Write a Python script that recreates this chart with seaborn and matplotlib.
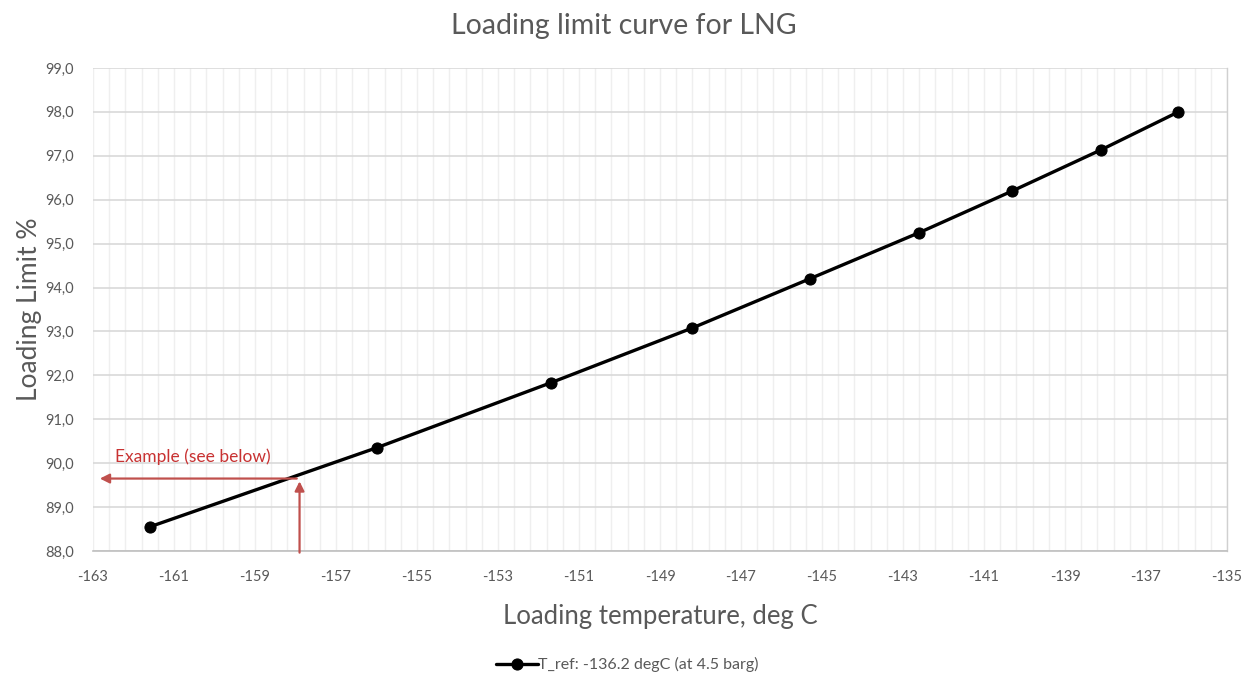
"""
LNG loading limit curve, redrawn with seaborn
"""
import numpy as np
import pandas as pd
import matplotlib
matplotlib.use('Agg')
import matplotlib.pyplot as plt
from matplotlib.ticker import FixedLocator, FuncFormatter, MultipleLocator
import seaborn as sns

# data
temp_c = [-161.6, -156.0, -151.7, -148.2, -145.3, -142.6, -140.3, -138.1, -136.2]
limit_pct = [88.55, 90.35, 91.83, 93.08, 94.2, 95.25, 96.2, 97.14, 98.0]
series_name = 'T_ref: -136.2 degC (at 4.5 barg)'
x_ticks = list(range(-163, -134, 2))

# worked example (red arrows)
ex_temp = -157.9
ex_limit = 89.65
ex_text = 'Example (see below)'

sns.set_style('white')
plt.rcParams['font.family'] = ['Lato', 'DejaVu Sans']
plt.rcParams['axes.unicode_minus'] = False

df = pd.DataFrame({'temp': temp_c, 'limit': limit_pct})

fig = plt.figure(figsize=(12.55, 6.77), dpi=100)
ax = fig.add_axes([0.0741, 0.1861, 0.9036, 0.7135])

sns.lineplot(data=df, x='temp', y='limit', ax=ax, color='black', linewidth=2.4,
             marker='o', markersize=8, markeredgecolor='black', label=series_name,
             zorder=5)

ax.set_xlim(-163, -135)
ax.set_ylim(88, 99)
ax.xaxis.set_major_locator(FixedLocator(x_ticks))
ax.xaxis.set_minor_locator(FixedLocator(np.arange(-163, -134.9, 0.4)))
ax.yaxis.set_major_locator(MultipleLocator(1))
ax.yaxis.set_major_formatter(FuncFormatter(lambda v, p: f'{v:.1f}'.replace('.', ',')))

ax.grid(which='minor', axis='x', color='#efefef', linewidth=1.0)
ax.grid(which='major', axis='x', color='#efefef', linewidth=1.0)
ax.grid(which='major', axis='y', color='#d9d9d9', linewidth=1.2)
ax.set_axisbelow(True)
ax.tick_params(which='both', length=0, labelsize=10.5, labelcolor='#595959')
ax.tick_params(axis='y', pad=14)
ax.tick_params(axis='x', pad=14)

for s in ['top', 'left']:
    ax.spines[s].set_visible(False)
ax.spines['bottom'].set_color('#bfbfbf')
ax.spines['bottom'].set_linewidth(1.2)
ax.spines['right'].set_color('#d0d0d0')
ax.spines['right'].set_linewidth(1.0)

fig.text(0.497, 0.962, 'Loading limit curve for LNG', fontsize=20.5, color='#595959',
         ha='center', va='center')
ax.set_xlabel('Loading temperature, deg C', fontsize=18.5, color='#595959', labelpad=14)
ax.set_ylabel('Loading Limit %', fontsize=19, color='#595959', labelpad=2)

# example arrows
red = '#c0504d'
ax.annotate('', xy=(ex_temp, ex_limit), xytext=(ex_temp, 87.9),
            arrowprops=dict(arrowstyle='-|>', color=red, lw=1.6, mutation_scale=14),
            annotation_clip=False, zorder=6)
ax.annotate('', xy=(-162.9, ex_limit), xytext=(ex_temp, ex_limit),
            arrowprops=dict(arrowstyle='-|>', color=red, lw=1.6, mutation_scale=14),
            annotation_clip=False, zorder=6)
ax.text(-162.45, 89.95, ex_text, color='#c83232', fontsize=12.5, va='bottom', ha='left')

ax.legend_.remove()
handles, labels = ax.get_legend_handles_labels()
fig.legend(handles, labels, loc='center', bbox_to_anchor=(0.5, 0.018), frameon=False,
           fontsize=11.5, handlelength=2.6, handletextpad=0.0, labelcolor='#595959')

plt.savefig('out.png', dpi=100)
